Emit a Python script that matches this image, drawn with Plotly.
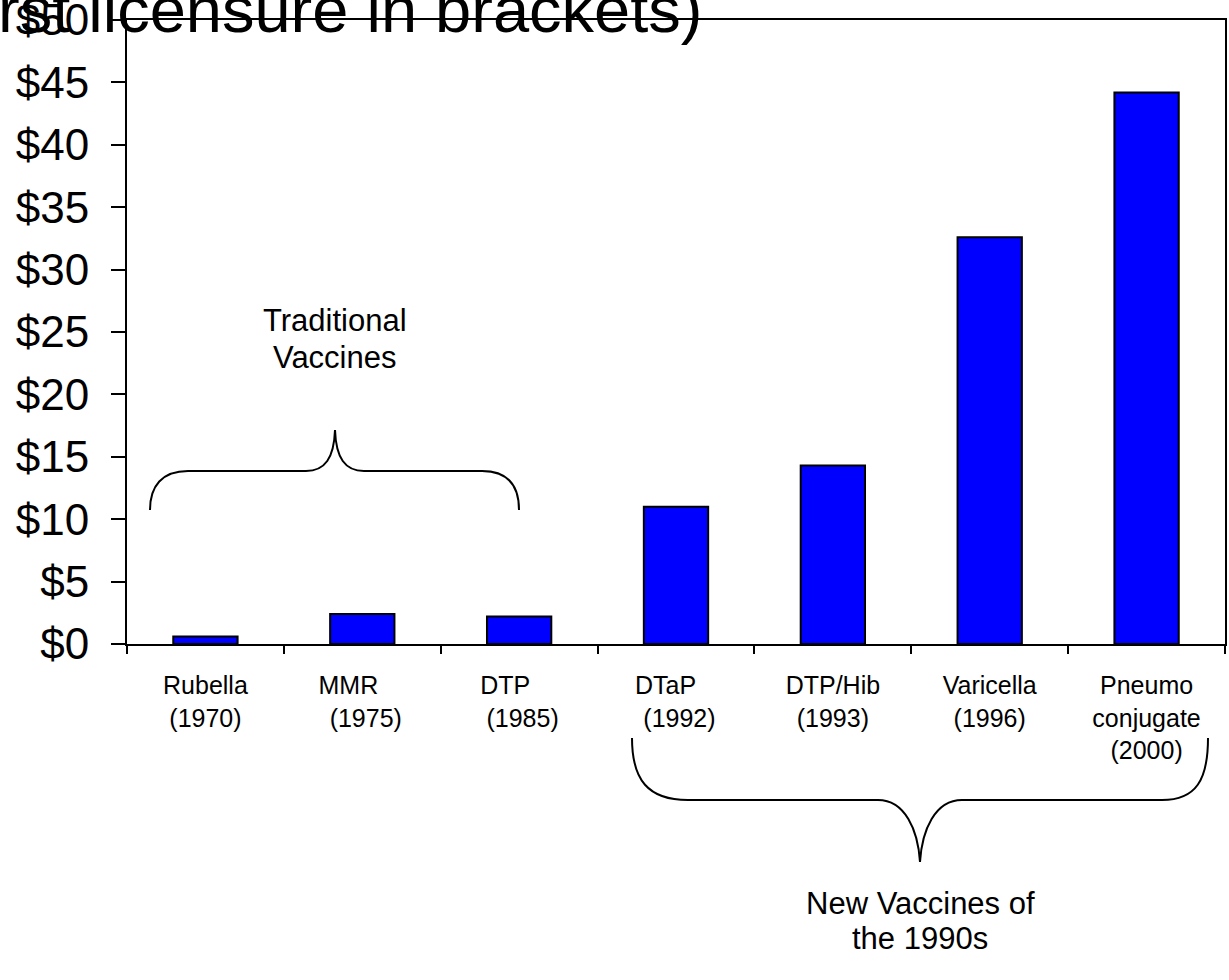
import plotly.graph_objects as go

# ---- data ----
vaccines = ["Rubella", "MMR", "DTP", "DTaP", "DTP/Hib", "Varicella", "Pneumo conjugate"]
NB = "\u00a0"
tick_labels = [
    "Rubella<br>(1970)",
    "MMR" + NB * 4 + "<br>" + NB + "(1975)",
    "DTP" + NB * 4 + "<br>" + NB + "(1985)",
    "DTaP" + NB * 3 + "<br>" + NB + "(1992)",
    "DTP/Hib<br>(1993)",
    "Varicella<br>(1996)",
    "Pneumo<br>conjugate<br>(2000)",
]
prices = [0.6, 2.4, 2.2, 11.0, 14.3, 32.6, 44.2]
y_tickvals = [0, 5, 10, 15, 20, 25, 30, 35, 40, 45, 50]
y_ticktext = ["$0", "$5", "$10", "$15", "$20", "$25", "$30", "$35", "$40", "$45", "$50"]
title_text = "rst licensure in brackets)"
trad_lines = ["Traditional", "Vaccines"]
new_lines = ["New Vaccines of", "the 1990s"]

# ---- layout geometry (pixels) ----
W, H = 1229, 980
L, T = 127, 20
PLOT_R, PLOT_B = 1225, 644
R, B = W - PLOT_R, H - PLOT_B
PW, PH = PLOT_R - L, PLOT_B - T
FONT = "Arial, Liberation Sans, sans-serif"


def px(x):  # pixel x -> paper fraction
    return (x - L) / PW


def py(y):  # pixel y -> paper fraction
    return (PLOT_B - y) / PH


def path_from_pixels(cmds):
    out = []
    for cmd, pts in cmds:
        coords = [f"{px(x):.5f},{py(y):.5f}" for (x, y) in pts]
        out.append(cmd + " " + " ".join(coords))
    return " ".join(out)


fig = go.Figure()
fig.add_trace(go.Bar(
    x=vaccines, y=prices,
    marker=dict(color="#0000FF", line=dict(color="black", width=2)),
    showlegend=False, hoverinfo="x+y",
))

brace_trad = path_from_pixels([
    ("M", [(150, 510)]),
    ("C", [(150, 486), (162, 471), (188, 471)]),
    ("L", [(306, 471)]),
    ("C", [(325, 471), (334, 458), (335, 430)]),
    ("C", [(336, 458), (345, 471), (364, 471)]),
    ("L", [(482, 471)]),
    ("C", [(508, 471), (519, 486), (519, 510)]),
])
brace_new = path_from_pixels([
    ("M", [(632, 738)]),
    ("C", [(632, 780), (648, 800), (688, 800)]),
    ("L", [(878, 800)]),
    ("C", [(905, 800), (918, 830), (920, 862)]),
    ("C", [(922, 830), (935, 800), (962, 800)]),
    ("L", [(1162, 800)]),
    ("C", [(1196, 800), (1208, 780), (1208, 738)]),
])

shapes = [
    dict(type="path", xref="paper", yref="paper", path=brace_trad,
         line=dict(color="black", width=2)),
    dict(type="path", xref="paper", yref="paper", path=brace_new,
         line=dict(color="black", width=2)),
]

annotations = [
    dict(text=title_text, xref="paper", yref="paper", x=px(-4), y=py(48),
         xanchor="left", yanchor="bottom", showarrow=False,
         font=dict(family=FONT, size=65, color="black")),
]
for txt, yy in zip(trad_lines, [320, 357]):
    annotations.append(dict(text=txt, xref="paper", yref="paper", x=px(335), y=py(yy),
                            xanchor="center", yanchor="middle", showarrow=False,
                            font=dict(family=FONT, size=31, color="black")))
for txt, yy in zip(new_lines, [903, 938]):
    annotations.append(dict(text=txt, xref="paper", yref="paper", x=px(920), y=py(yy),
                            xanchor="center", yanchor="middle", showarrow=False,
                            font=dict(family=FONT, size=31, color="black")))

fig.update_layout(
    width=W, height=H, autosize=False,
    margin=dict(l=L, r=R, t=T, b=B, pad=0, autoexpand=False),
    paper_bgcolor="white", plot_bgcolor="white",
    bargap=0.59,
    shapes=shapes, annotations=annotations,
    font=dict(family=FONT, color="black"),
    xaxis=dict(
        type="category", range=[-0.5, 6.5], automargin=False,
        tickmode="array", tickvals=vaccines, ticktext=tick_labels,
        tickson="boundaries", ticks="outside", ticklen=8, tickwidth=2, tickcolor="black",
        showline=True, linewidth=2, linecolor="black", mirror=True,
        showgrid=False, tickfont=dict(family=FONT, size=25, color="black"),
        ticklabelstandoff=18,
    ),
    yaxis=dict(
        range=[0, 50], tickmode="array", tickvals=y_tickvals, ticktext=y_ticktext,
        automargin=False,
        ticks="outside", ticklen=14, tickwidth=2, tickcolor="black",
        showline=True, linewidth=2, linecolor="black", mirror=True,
        showgrid=False, zeroline=False,
        tickfont=dict(family=FONT, size=44, color="black"),
        ticklabelstandoff=13, ticklabeloverflow="allow",
    ),
)

# remove the default page margin so the 1229x980 figure fills the window exactly
fig.write_html("out.html", config={"displayModeBar": False},
               post_script="document.body.style.margin='0px';")
